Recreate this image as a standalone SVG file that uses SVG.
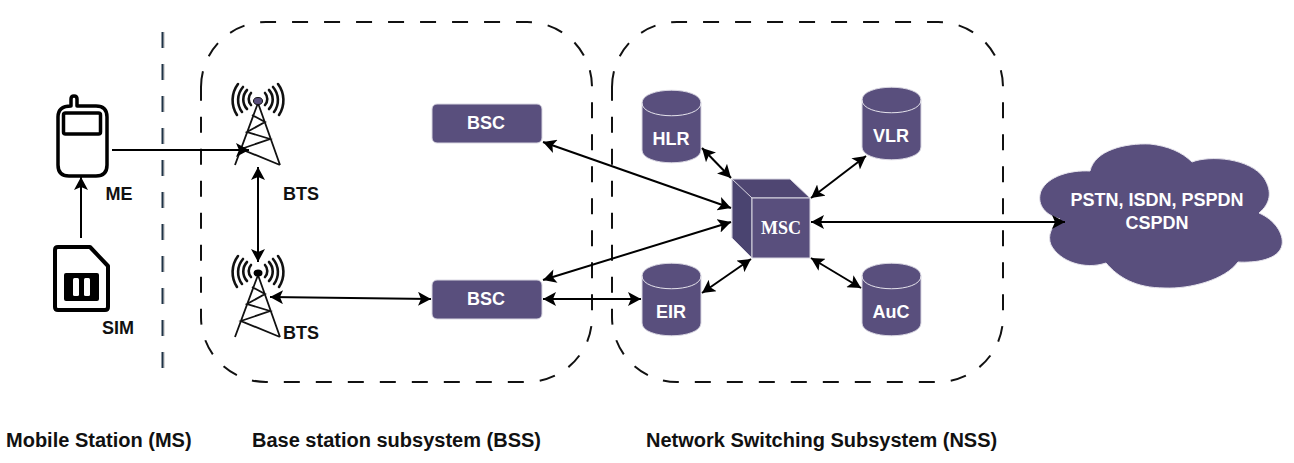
<svg xmlns="http://www.w3.org/2000/svg" width="1294" height="463" viewBox="0 0 1294 463">
<style>
text{font-family:"Liberation Sans",Arial,sans-serif;font-weight:700;text-anchor:middle}
.l{font-size:18px;fill:#111}
.w{font-size:18px;fill:#fff}
.c{font-size:20px;fill:#111;text-anchor:start}
.f{fill:#594f7d;stroke:#d9d7e2;stroke-width:1}
.d{fill:none;stroke:#111;stroke-width:2;stroke-dasharray:16 16}
.a{fill:none;stroke:#000;stroke-width:2;marker-end:url(#m)}
.b{fill:none;stroke:#000;stroke-width:2;marker-start:url(#s);marker-end:url(#m)}
.t{fill:none;stroke:#111;stroke-width:1.8}
.r{fill:none;stroke:#111;stroke-width:2.6;stroke-linecap:round}
.o{fill:none;stroke:#000;stroke-width:3.500}
.e{fill:none;stroke:#e5e3ec;stroke-width:1}
</style>
<defs>
<marker id="m" markerUnits="userSpaceOnUse" markerWidth="15" markerHeight="14" refX="13" refY="7" orient="auto"><path d="M0 0L13 7L0 14L3 7Z" fill="#000"/></marker>
<marker id="s" markerUnits="userSpaceOnUse" markerWidth="15" markerHeight="14" refX="1" refY="7" orient="auto"><path d="M14 0L1 7L14 14L11 7Z" fill="#000"/></marker>
<g id="wave"><path class="r" d="M251 93a9 9 0 0 0 0 12M247 90a14 14 0 0 0 0 19M243 87a20 20 0 0 0-1 25M238 84a27 27 0 0 0-1 31"/><path class="r" d="M265 93a9 9 0 0 1 0 12M269 90a14 14 0 0 1 0 19M273 87a20 20 0 0 1 1 25M278 84a27 27 0 0 1 1 31"/></g>
<path id="lat" class="t" d="M258 103L235 165M258 103L280 165M252 115L265 122L247 132L270 139L241 149L280 165"/>
<path id="cyl" d="M0 13C0 -4 59 -4 59 13V60C59 77 0 77 0 60Z"/>
</defs>

<path class="d" d="M201 87a65 65 0 0 1 65-65H527a65 65 0 0 1 65 65V317a65 65 0 0 1-65 65H266a65 65 0 0 1-65-65Z"/>
<path class="d" d="M612 87a65 65 0 0 1 65-65H938a65 65 0 0 1 65 65V317a65 65 0 0 1-65 65H677a65 65 0 0 1-65-65Z"/>
<path d="M164 32V368" fill="none" stroke="#d8d8d8" stroke-width="2" stroke-dasharray="16 16"/>
<path d="M162.500 32V368" fill="none" stroke="#1f3347" stroke-width="2" stroke-dasharray="16 16"/>

<g id="me">
<path class="o" d="M71 106V99Q71 96 74 96Q77 96 77 99V106H96Q107 106 107 117V165Q107 176 96 176H69Q58 176 58 165V117Q58 106 71 106Z" stroke-linejoin="round"/>
<rect class="o" x="63.500" y="113" width="37" height="21" rx="2"/>
<text class="l" x="119" y="200">ME</text>
</g>
<g id="sim">
<path d="M58 247H90L108 266V307Q108 310 105 310H58Q55 310 55 307V250Q55 247 58 247Z" fill="none" stroke="#000" stroke-width="4" stroke-linejoin="round"/>
<rect x="64" y="273" width="35" height="28" rx="2" fill="#000"/>
<rect x="73" y="278" width="6" height="18" rx="1.500" fill="#fff"/>
<rect x="84" y="278" width="6" height="18" rx="1.500" fill="#fff"/>
<text class="l" x="118" y="334">SIM</text>
</g>
<g id="bts1">
<use href="#wave"/><use href="#lat"/>
<ellipse cx="258" cy="101" rx="4.500" ry="3.500" fill="#594f7d" stroke="#111"/>
<text class="l" x="301" y="200">BTS</text>
</g>
<g id="bts2">
<use href="#wave" y="172"/><use href="#lat" y="172"/>
<ellipse cx="258" cy="273" rx="4.500" ry="3.500" fill="#000"/>
<text class="l" x="301" y="339">BTS</text>
</g>
<g id="bsc1">
<rect class="f" x="432" y="104" width="110" height="39" rx="5"/>
<text class="w" x="486" y="129">BSC</text>
</g>
<g id="bsc2">
<rect class="f" x="432" y="280" width="110" height="39" rx="5"/>
<text class="w" x="486" y="305">BSC</text>
</g>
<g id="hlr">
<use href="#cyl" x="642" y="90" class="f" fill="#594f7d"/>
<path class="e" d="M642 103C642 120 701 120 701 103"/>
<text class="w" x="671" y="145">HLR</text>
</g>
<g id="vlr">
<use href="#cyl" x="862" y="87" class="f" fill="#594f7d"/>
<path class="e" d="M862 100C862 117 921 117 921 100"/>
<text class="w" x="891" y="142">VLR</text>
</g>
<g id="eir">
<use href="#cyl" x="642" y="263" class="f" fill="#594f7d"/>
<path class="e" d="M642 276C642 293 701 293 701 276"/>
<text class="w" x="671" y="318">EIR</text>
</g>
<g id="auc">
<use href="#cyl" x="862" y="263" class="f" fill="#594f7d"/>
<path class="e" d="M862 276C862 293 921 293 921 276"/>
<text class="w" x="891" y="318">AuC</text>
</g>
<g id="msc">
<path d="M732 179H790L810 198H752V258L732 238Z" fill="#4f4672" stroke="#d9d7e2"/>
<path d="M732 179L752 198V258L732 238Z" fill="#4a4470" stroke="#d9d7e2"/>
<rect class="f" x="752" y="198" width="58" height="60"/>
<text x="781" y="234" style="font-family:'Liberation Serif',serif;font-size:18px;fill:#fff">MSC</text>
</g>
<g id="cloud">
<path d="M1090 171C1095 150 1125 143 1150 144C1168 146 1182 152 1192 162C1210 155 1250 158 1264 178C1273 192 1270 204 1259 213C1275 220 1284 234 1282 245C1279 260 1255 263 1238 262C1225 280 1190 289 1165 288C1135 288 1118 277 1106 263C1085 270 1060 262 1051 245C1047 235 1052 226 1060 219C1042 214 1037 202 1041 191C1048 176 1070 170 1090 171Z" fill="#594f7d" stroke="#e5e3ec"/>
<text class="w" x="1157" y="206">PSTN, ISDN, PSPDN</text>
<text class="w" x="1157" y="229">CSPDN</text>
</g>
<g id="connectors">
<path class="a" d="M112 150H249"/>
<path class="a" d="M81 238V177"/>
<path class="b" d="M258 167V262"/>
<path class="b" d="M270 297L431 299"/>
<path class="b" d="M543 299H641"/>
<path class="b" d="M543 142L731 208"/>
<path class="b" d="M543 280L731 222"/>
<path class="b" d="M702 148L731 178"/>
<path class="b" d="M866 156L811 198"/>
<path class="b" d="M702 293L751 259"/>
<path class="b" d="M861 288L811 258"/>
<path class="b" d="M811 222L1065 222"/>
</g>
<text class="c" x="6" y="447">Mobile Station (MS)</text>
<text class="c" x="252" y="447">Base station subsystem (BSS)</text>
<text class="c" x="646" y="447">Network Switching Subsystem (NSS)</text>
</svg>
